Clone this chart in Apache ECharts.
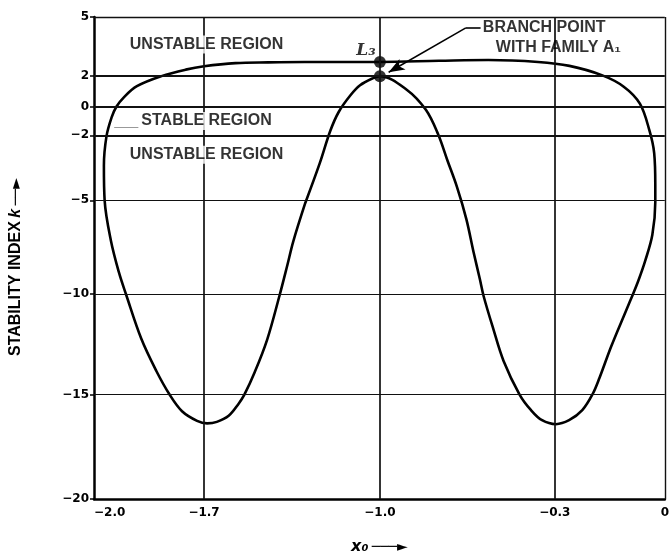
<!DOCTYPE html>
<html>
<head>
<meta charset="utf-8">
<script src="https://cdn.jsdelivr.net/npm/echarts@6/dist/echarts.min.js"></script>
<style>
  html, body { margin: 0; padding: 0; background: #fff; }
  #chart-container { width: 672px; height: 560px; }
</style>
</head>
<body>
<div id="chart-container"></div>
<script>
// axis ticks (the original plot spaces them unevenly)
var xTicks = [-2.0, -1.7, -1.0, -0.3, 0];
var xTickLabels = ['−2.0', '−1.7', '−1.0', '−0.3', '0'];
var yTicks = [5, 2, 0, -2, -5, -10, -15, -20];
var yTickLabels = ['5', '2', '0', '−2', '−5', '−10', '−15', '−20'];

// the closed family curve, x0 and stability index k
var loopX = [-1.297, -1.345, -1.368, -1.400, -1.449, -1.498, -1.540, -1.563, -1.602, -1.649,
  -1.688, -1.719, -1.760, -1.794, -1.830, -1.871, -1.913, -1.932, -1.954, -1.971,
  -1.973, -1.966, -1.952, -1.939, -1.918, -1.883, -1.816, -1.750, -1.700, -1.575,
  -1.445, -1.300, -1.170, -1.000, -0.763, -0.566, -0.367, -0.260, -0.172, -0.112,
  -0.068, -0.042, -0.029, -0.026, -0.026, -0.034, -0.054, -0.072, -0.086, -0.108,
  -0.146, -0.178, -0.196, -0.225, -0.261, -0.297, -0.351, -0.395, -0.441, -0.505,
  -0.547, -0.585, -0.600, -0.625, -0.654, -0.691, -0.730, -0.767, -0.816, -0.894,
  -1.000, -1.027, -1.079, -1.118, -1.164, -1.197, -1.240, -1.297];
var loopK = [-5.14, -7.2, -8.44, -10.1, -12.28, -13.88, -15.02, -15.45, -16.02, -16.31,
  -16.38, -16.26, -15.8, -15.0, -13.83, -12.23, -10.0, -8.85, -7.14, -5.0,
  -3.4, -2.05, -0.75, 0.0, 0.63, 1.34, 2.0, 2.33, 2.5, 2.66,
  2.7, 2.72, 2.72, 2.72, 2.78, 2.82, 2.72, 2.52, 2.05, 1.31,
  0.2, -1.66, -2.82, -4.3, -5.1, -6.84, -8.26, -9.28, -9.97, -10.93,
  -12.6, -14.17, -14.95, -15.75, -16.23, -16.42, -16.23, -15.75, -15.0, -13.33,
  -11.7, -10.1, -9.2, -7.77, -6.0, -4.4, -3.15, -1.93, -0.22, 1.13,
  2.0, 1.87, 1.4, 0.73, -0.37, -1.67, -3.31, -5.14];

var l3Point = [-1.0, 2.72];
var branchPoint = [-1.0, 2.0];

// text notes: [text, x0, k]
var regionNotes = [
  ['UNSTABLE REGION', -1.69, 3.6],
  ['STABLE REGION', -1.69, -1.0],
  ['UNSTABLE REGION', -1.69, -2.9]
];
var branchNotes = [
  ['BRANCH POINT', -0.59, 4.45],
  ['WITH FAMILY A₁', -0.538, 3.47]
];

// uneven axis spacing of the drawing (axis units per tick)
var xScalePos = [0, 112, 291, 469, 581];
var yScalePos = [489, 429, 398, 369, 303, 208, 106, 0];

function warp(v, vals, pos) {
  var n = vals.length;
  for (var i = 0; i < n - 1; i++) {
    var a = vals[i], b = vals[i + 1];
    if ((v - a) * (v - b) <= 0) {
      return pos[i] + (v - a) / (b - a) * (pos[i + 1] - pos[i]);
    }
  }
  var j = Math.abs(v - vals[0]) < Math.abs(v - vals[n - 1]) ? 0 : n - 2;
  return pos[j] + (v - vals[j]) / (vals[j + 1] - vals[j]) * (pos[j + 1] - pos[j]);
}
function P(x, k) {
  return [warp(x, xTicks, xScalePos), warp(k, yTicks, yScalePos)];
}

var loopData = loopX.map(function (x, i) { return P(x, loopK[i]); });

var gridLines = [];
xTicks.forEach(function (t, i) {
  if (i === 0) return;
  gridLines.push({ xAxis: warp(t, xTicks, xScalePos), lineStyle: { width: i === 4 ? 1.4 : 1.7 } });
});
yTicks.forEach(function (t, i) {
  if (i === yTicks.length - 1) return;
  var w = (t === 2 || t === 0 || t === -2) ? 1.9 : (t === 5 ? 1.4 : 1.1);
  gridLines.push({ yAxis: warp(t, yTicks, yScalePos), lineStyle: { width: w } });
});

var noteFont = 'Liberation Sans';
var noteData = regionNotes.map(function (n) {
  return {
    name: n[0], value: P(n[1], n[2]),
    label: { position: 'inside', backgroundColor: '#fff', padding: [1, 3] }
  };
}).concat(branchNotes.map(function (n) {
  return {
    name: n[0], value: P(n[1], n[2]),
    label: { position: 'right', distance: 0 }
  };
}));

var dom = document.getElementById('chart-container');
var myChart = echarts.init(dom, null, { renderer: 'canvas' });

var option = {
  backgroundColor: '#fff',
  animation: false,
  grid: { left: 88, right: 3, top: 17, bottom: 54 },
  xAxis: {
    type: 'value', min: 0, max: 581,
    name: '{x|x₀} {a|───►}',
    nameLocation: 'middle', nameGap: 40,
    nameTextStyle: {
      rich: {
        x: { fontFamily: 'DejaVu Sans', fontStyle: 'italic', fontWeight: 'bold', fontSize: 16, color: '#000' },
        a: { fontFamily: 'DejaVu Sans', fontWeight: 'bold', fontSize: 14, color: '#000' }
      }
    },
    axisLine: { lineStyle: { color: '#000', width: 2.5 } },
    axisTick: { show: false },
    splitLine: { show: false },
    axisLabel: {
      customValues: xScalePos,
      formatter: function (v) { return xTickLabels[xScalePos.indexOf(v)]; },
      color: '#000', fontFamily: 'DejaVu Sans', fontWeight: 'bold', fontSize: 12, margin: 8,
      alignMinLabel: 'left'
    }
  },
  yAxis: {
    type: 'value', min: 0, max: 489,
    name: '{t|STABILITY INDEX} {k|k} {a|──►}',
    nameLocation: 'middle', nameGap: 70, nameRotate: 90,
    nameTextStyle: {
      padding: [0, 18, 0, 0],
      rich: {
        t: { fontFamily: noteFont, fontWeight: 'bold', fontSize: 16, color: '#000' },
        k: { fontFamily: noteFont, fontStyle: 'italic', fontWeight: 'bold', fontSize: 16, color: '#000' },
        a: { fontFamily: 'DejaVu Sans', fontWeight: 'bold', fontSize: 14, color: '#000' }
      }
    },
    axisLine: { lineStyle: { color: '#000', width: 2.5 } },
    axisTick: { show: true, length: 4, customValues: yScalePos, lineStyle: { color: '#000', width: 1.5 } },
    splitLine: { show: false },
    axisLabel: {
      customValues: yScalePos,
      formatter: function (v) { return yTickLabels[yScalePos.indexOf(v)]; },
      color: '#000', fontFamily: 'DejaVu Sans', fontWeight: 'bold', fontSize: 12, margin: 5
    }
  },
  series: [
    {
      type: 'line',
      data: loopData,
      smooth: 0.35,
      symbol: 'none',
      lineStyle: { color: '#000', width: 2.6 },
      z: 3,
      markLine: {
        silent: true,
        symbol: 'none',
        label: { show: false },
        lineStyle: { color: '#111', type: 'solid' },
        data: gridLines
      }
    },
    {
      type: 'scatter',
      data: [
        { value: P(l3Point[0], l3Point[1]), name: 'L₃' },
        { value: P(branchPoint[0], branchPoint[1]), name: '' }
      ],
      symbolSize: 12,
      itemStyle: { color: '#000' },
      z: 4,
      label: {
        show: true,
        formatter: '{b}',
        position: 'top',
        distance: 2,
        offset: [-14, 5],
        color: '#000',
        fontFamily: 'DejaVu Serif',
        fontStyle: 'italic',
        fontWeight: 'bold',
        fontSize: 17
      }
    },
    {
      type: 'scatter',
      data: noteData,
      symbolSize: 1,
      itemStyle: { color: 'rgba(0,0,0,0)' },
      z: 5,
      label: {
        show: true,
        formatter: '{b}',
        color: '#000',
        fontFamily: noteFont,
        fontWeight: 'bold',
        fontSize: 16
      },
      markLine: {
        silent: true,
        symbol: 'none',
        label: { show: false },
        lineStyle: { color: '#000', type: 'solid', width: 1.6 },
        data: [
          [{ coord: P(-0.597, 4.45) }, { coord: P(-0.656, 4.45) }],
          [{ coord: P(-0.656, 4.45) },
           { coord: P(-0.965, 2.2), symbol: 'arrow', symbolSize: [9, 16] }],
          [{ coord: P(-1.945, -1.45), lineStyle: { color: '#999', width: 1 } },
           { coord: P(-1.878, -1.45) }]
        ]
      }
    }
  ]
};

if (option && typeof option === 'object') {
  myChart.setOption(option);
}

window.addEventListener('resize', myChart.resize);
</script>
</body>
</html>
